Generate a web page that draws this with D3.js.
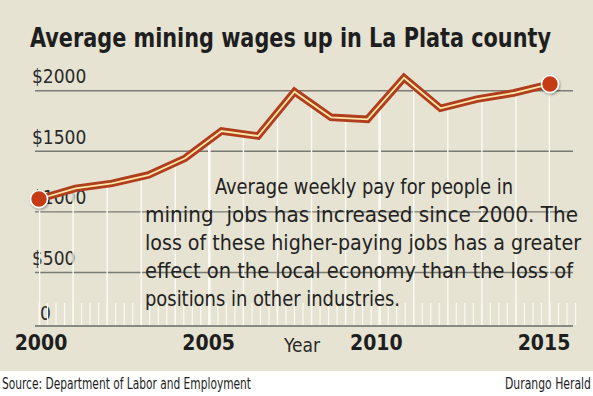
<!DOCTYPE html>
<html>
<head>
<meta charset="utf-8">
<script src="https://cdn.jsdelivr.net/npm/d3@7/dist/d3.min.js"></script>
<style>
  html, body { margin: 0; padding: 0; background: #fff; }
  svg { display: block; }
</style>
</head>
<body>
<div id="chart"></div>
<script>
// data (15 evenly spaced readings, 2000 -> 2015)
const periods = d3.range(15);
const wages = [1106, 1194, 1235, 1304, 1442, 1667, 1626, 1992, 1780, 1764, 2107, 1855, 1931, 1981, 2055];
const yTicks = [0, 500, 1000, 1500, 2000];
const yTickLabels = ['0', '$500', '$1000', '$1500', '$2000'];
const xTicks = [2000, 2005, 2010, 2015];
const noteLines = [
  'Average weekly pay for people in',
  'mining  jobs has increased since 2000. The',
  'loss of these higher-paying jobs has a greater',
  'effect on the local economy than the loss of',
  'positions in other industries.'
];

const W = 593, H = 396;
const narrow = "'Liberation Sans Narrow', 'DejaVu Sans Condensed', 'Roboto Condensed', sans-serif";

const svg = d3.select('#chart').append('svg')
  .attr('width', W).attr('height', H)
  .attr('viewBox', `0 0 ${W} ${H}`);

// beige panel, white footer strip
svg.append('rect').attr('width', W).attr('height', 371).attr('fill', '#e6e3d3');

const defs = svg.append('defs');
const shadow = defs.append('filter').attr('id', 'shadow')
  .attr('x', '-50%').attr('y', '-50%').attr('width', '200%').attr('height', '200%');
shadow.append('feDropShadow').attr('dx', 1).attr('dy', 1.5).attr('stdDeviation', 1.2)
  .attr('flood-color', '#000').attr('flood-opacity', 0.35);

// scales
const x = d3.scaleLinear().domain([0, 14]).range([39, 550]);
const xYear = d3.scaleLinear().domain([2000, 2015]).range([39, 550]);
const xLabel = d3.scaleLinear().domain([2000, 2015]).range([41, 544]);
const y = d3.scaleLinear().domain([0, 2000]).range([333, 90.7]);
const baseY = 326;

// title
svg.append('text')
  .attr('x', 30).attr('y', 47)
  .attr('font-family', narrow).attr('font-weight', 'bold')
  .attr('font-size', 27).attr('fill', '#1e1e1e')
  .attr('textLength', 521).attr('lengthAdjust', 'spacingAndGlyphs')
  .text('Average mining wages up in La Plata county');

// horizontal gridlines
svg.append('g').selectAll('line')
  .data(yTicks.filter(d => d > 0))
  .join('line')
  .attr('x1', 35).attr('x2', 573)
  .attr('y1', d => y(d)).attr('y2', d => y(d))
  .attr('stroke', '#7a7a74').attr('stroke-width', 1.4);

// baseline
svg.append('line')
  .attr('x1', 35).attr('x2', 573).attr('y1', baseY).attr('y2', baseY)
  .attr('stroke', '#8a8a84').attr('stroke-width', 2);

// y labels
svg.append('g').selectAll('text')
  .data(yTicks)
  .join('text')
  .attr('x', d => d === 0 ? 40 : 32)
  .attr('y', d => d === 0 ? 320 : y(d) - 7.5)
  .attr('font-family', narrow).attr('font-size', 19).attr('fill', '#2a2a2a')
  .text((d, i) => yTickLabels[i]);

// white drop lines under the curve
const area = d3.area()
  .x((d, i) => x(periods[i]))
  .y0(baseY).y1(d => y(d));
defs.append('clipPath').attr('id', 'under')
  .append('path').attr('d', area(wages));

const years = d3.range(2000, 2016);
svg.append('g').attr('clip-path', 'url(#under)')
  .selectAll('line')
  .data(years)
  .join('line')
  .attr('x1', d => xYear(d)).attr('x2', d => xYear(d))
  .attr('y1', 60).attr('y2', baseY - 1)
  .attr('stroke', '#fbfaf2')
  .attr('stroke-width', d => d % 5 === 0 ? 2.6 : 1.4);

// short quarterly ticks along the bottom
const quarters = d3.range(2000, 2015.76, 0.25);
svg.append('g').selectAll('line')
  .data(quarters)
  .join('line')
  .attr('x1', d => xYear(d)).attr('x2', d => xYear(d))
  .attr('y1', 303).attr('y2', baseY - 1)
  .attr('stroke', '#fbfaf2').attr('stroke-width', 1.2);

// note text
const note = svg.append('g')
  .attr('font-family', narrow).attr('font-size', 21.5).attr('fill', '#222');
const noteX = [215, 145, 145, 145, 145];
const noteLen = [298, 433, 436, 428, 255];
note.selectAll('text')
  .data(noteLines)
  .join('text')
  .attr('x', (d, i) => noteX[i])
  .attr('y', (d, i) => 193.5 + i * 28.2)
  .attr('textLength', (d, i) => noteLen[i])
  .attr('lengthAdjust', 'spacingAndGlyphs')
  .attr('xml:space', 'preserve')
  .style('white-space', 'pre')
  .text(d => d);

// the wage line
const line = d3.line()
  .x((d, i) => x(periods[i]))
  .y(d => y(d));
svg.append('path')
  .attr('d', line(wages))
  .attr('fill', 'none').attr('stroke', '#b03d1c')
  .attr('stroke-width', 7.5).attr('stroke-linejoin', 'miter');
svg.append('path')
  .attr('d', line(wages))
  .attr('fill', 'none').attr('stroke', '#fbe8a8')
  .attr('stroke-width', 1.8).attr('stroke-linejoin', 'miter');

// end points
const ends = [0, wages.length - 1];
svg.append('g').selectAll('circle')
  .data(ends)
  .join('circle')
  .attr('cx', i => x(periods[i]))
  .attr('cy', i => y(wages[i]))
  .attr('r', 8.5)
  .attr('fill', '#c43a17')
  .attr('stroke', '#fff').attr('stroke-width', 1.6)
  .attr('filter', 'url(#shadow)');

// x labels
svg.append('g').selectAll('text')
  .data(xTicks)
  .join('text')
  .attr('x', d => xLabel(d)).attr('y', 350)
  .attr('text-anchor', 'middle')
  .attr('font-family', narrow).attr('font-weight', 'bold')
  .attr('font-size', 21).attr('fill', '#1e1e1e')
  .text(d => d);

svg.append('text')
  .attr('x', 302).attr('y', 352)
  .attr('text-anchor', 'middle')
  .attr('font-family', narrow).attr('font-size', 19).attr('fill', '#2a2a2a')
  .text('Year');

// footer
svg.append('text')
  .attr('x', 2).attr('y', 389)
  .attr('font-family', narrow).attr('font-size', 15).attr('fill', '#1e1e1e')
  .attr('textLength', 249).attr('lengthAdjust', 'spacingAndGlyphs')
  .text('Source: Department of Labor and Employment');
svg.append('text')
  .attr('x', 591).attr('y', 389)
  .attr('text-anchor', 'end')
  .attr('font-family', narrow).attr('font-size', 15).attr('fill', '#1e1e1e')
  .attr('textLength', 86).attr('lengthAdjust', 'spacingAndGlyphs')
  .text('Durango Herald');
</script>
</body>
</html>
